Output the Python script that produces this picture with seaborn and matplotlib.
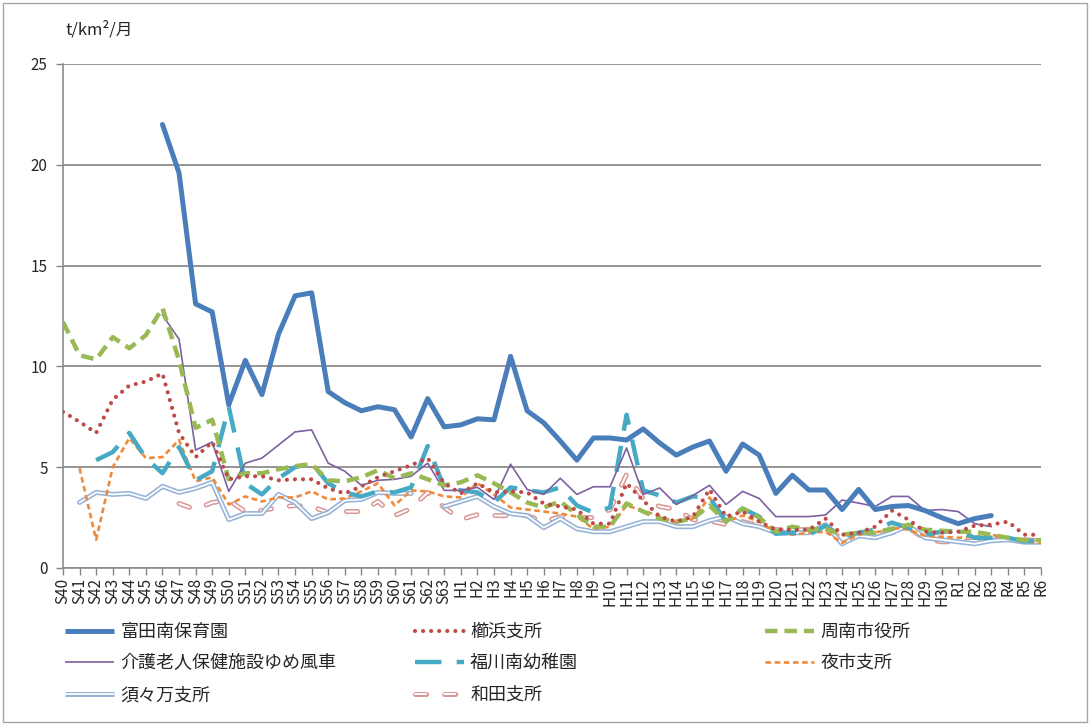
import numpy as np
import pandas as pd
import matplotlib.pyplot as plt
import seaborn as sns
from matplotlib.lines import Line2D
from matplotlib.legend_handler import HandlerTuple
from matplotlib.patches import Rectangle

sns.set_theme(style="white")
plt.rcParams["font.family"] = ["Noto Sans CJK JP", "DejaVu Sans"]
plt.rcParams["lines.scale_dashes"] = False

nan = np.nan

years = ["S40", "S41", "S42", "S43", "S44", "S45", "S46", "S47", "S48", "S49",
         "S50", "S51", "S52", "S53", "S54", "S55", "S56", "S57", "S58", "S59",
         "S60", "S61", "S62", "S63", "H1", "H2", "H3", "H4", "H5", "H6",
         "H7", "H8", "H9", "H10", "H11", "H12", "H13", "H14", "H15", "H16",
         "H17", "H18", "H19", "H20", "H21", "H22", "H23", "H24", "H25", "H26",
         "H27", "H28", "H29", "H30", "R1", "R2", "R3", "R4", "R5", "R6"]

# 富田南保育園
tonda = [nan, nan, nan, nan, nan, nan, 22.0, 19.6, 13.1, 12.7,
         8.1, 10.3, 8.6, 11.6, 13.5, 13.65, 8.75, 8.2, 7.8, 8.0,
         7.85, 6.5, 8.4, 7.0, 7.1, 7.4, 7.35, 10.5, 7.8, 7.2,
         6.3, 5.35, 6.45, 6.45, 6.35, 6.9, 6.2, 5.6, 6.0, 6.3,
         4.8, 6.15, 5.6, 3.7, 4.6, 3.87, 3.87, 2.9, 3.9, 2.9,
         3.05, 3.1, 2.85, 2.5, 2.2, 2.45, 2.6, nan, nan, nan]
# 櫛浜支所
kushigahama = [7.75, 7.25, 6.7, 8.35, 9.05, 9.25, 9.65, 6.7, 5.5, 6.25,
               4.4, 4.55, 4.55, 4.35, 4.4, 4.4, 3.95, 3.7, 4.05, 4.5,
               4.8, 5.1, 5.45, 4.2, 3.7, 4.2, 3.75, 3.8, 3.75, 3.2,
               3.05, 2.9, 2.2, 2.2, 4.2, 3.35, 2.55, 2.3, 2.55, 3.9,
               2.55, 2.8, 2.3, 1.9, 1.9, 1.9, 2.45, 1.65, 1.75, 2.05,
               2.85, 2.4, 1.8, 1.75, 1.8, 2.1, 2.15, 2.3, 1.65, 1.65]
# 周南市役所
shiyakusho = [12.2, 10.55, 10.35, 11.45, 10.9, 11.55, 12.9, 10.3, 6.95, 7.35,
              4.4, 4.7, 4.7, 4.9, 5.05, 5.15, 4.35, 4.3, 4.5, 4.85,
              4.45, 4.7, 4.4, 4.1, 4.25, 4.6, 4.2, 3.75, 3.25, 3.0,
              3.3, 2.65, 2.05, 2.05, 3.2, 2.8, 2.45, 2.3, 2.45, 3.1,
              2.3, 2.95, 2.5, 1.8, 2.05, 1.9, 1.95, 1.65, 1.75, 1.75,
              1.95, 2.15, 1.9, 1.85, 1.8, 1.8, 1.65, 1.5, 1.38, 1.38]
# 介護老人保健施設ゆめ風車
yumefusha = [nan, nan, nan, nan, nan, nan, 12.55, 11.35, 5.85, 6.25,
             3.8, 5.2, 5.45, 6.1, 6.75, 6.85, 5.2, 4.8, 4.1, 4.35,
             4.4, 4.55, 5.2, 3.85, 3.85, 4.0, 3.4, 5.15, 3.9, 3.65,
             4.45, 3.65, 4.03, 4.03, 5.95, 3.65, 3.97, 3.15, 3.6, 4.1,
             3.15, 3.8, 3.45, 2.55, 2.55, 2.55, 2.63, 3.37, 3.22, 3.05,
             3.55, 3.55, 2.85, 2.9, 2.8, 2.2, 2.05, nan, nan, nan]
# 福川南幼稚園
fukugawa = [nan, nan, 5.35, 5.75, 6.7, 5.45, 4.7, 6.0, 4.35, 4.8,
            8.0, 4.2, 3.65, 4.45, 5.0, 5.2, 4.2, 3.75, 3.55, 3.8,
            3.75, 4.0, 6.05, 4.0, 3.85, 3.75, 3.25, 4.0, 3.85, 3.75,
            4.0, 3.1, 2.75, 3.0, 7.6, 3.85, 3.6, 3.25, 3.55, 3.5,
            2.3, 2.95, 2.55, 1.7, 1.75, 1.65, 2.1, 1.55, 1.75, 1.9,
            2.25, 2.0, 1.65, 1.8, 1.85, 1.5, 1.5, 1.5, 1.32, 1.36]
# 夜市支所
yaichi = [nan, 4.95, 1.4, 5.0, 6.45, 5.45, 5.5, 6.35, 4.3, 4.5,
          3.15, 3.55, 3.3, 3.5, 3.5, 3.8, 3.4, 3.45, 3.8, 4.2,
          3.1, 3.85, 3.8, 3.55, 3.5, 4.2, 3.65, 3.0, 2.9, 2.8,
          2.7, 2.55, 1.95, 2.05, 3.1, 2.85, 2.55, 2.25, 2.45, 3.5,
          2.3, 2.6, 2.3, 1.75, 1.65, 1.75, 1.8, 1.25, 1.65, 1.75,
          2.0, 1.9, 1.6, 1.55, 1.5, 1.55, 1.65, 1.5, 1.3, 1.25]
# 須々万支所
suzuma = [nan, 3.25, 3.75, 3.65, 3.7, 3.45, 4.05, 3.75, 3.95, 4.25,
          2.4, 2.7, 2.7, 3.65, 3.25, 2.45, 2.75, 3.35, 3.4, 3.75,
          3.7, 3.7, nan, 3.05, 3.3, 3.55, 3.05, 2.7, 2.6, 2.0,
          2.45, 1.95, 1.8, 1.8, 2.05, 2.3, 2.3, 2.05, 2.05, 2.35,
          2.55, 2.2, 2.05, 1.75, 1.75, 1.75, 2.15, 1.2, 1.6, 1.5,
          1.75, 2.1, 1.5, 1.4, 1.3, 1.2, 1.35, 1.4, 1.28, 1.28]
# 和田支所
wada = [nan, nan, nan, nan, nan, nan, nan, 3.2, 2.9, 3.25,
        3.35, 2.8, 2.85, 3.0, 3.1, 3.05, 2.75, 2.8, 2.8, 3.3,
        2.6, 2.95, 3.75, 3.0, 2.4, 2.65, 2.6, 2.6, 2.6, 2.3,
        2.55, 2.5, 2.5, 2.9, 4.65, 3.45, 3.05, 2.9, 2.4, 2.35,
        2.15, 2.3, 2.1, 1.9, 1.9, 1.9, 2.0, 1.45, 1.6, 1.7,
        1.75, 2.0, 1.45, 1.3, 1.3, 1.35, 1.4, 1.45, 1.4, 1.35]

W, H = 1091, 724
fig = plt.figure(figsize=(W / 100, H / 100), dpi=100)
ax = fig.add_axes([63 / W, 1 - 568 / H, (1041 - 63) / W, (568 - 64) / H])


def draw(vals, color, lw, ls="-", cap="butt", z=2):
    d = pd.DataFrame({"x": range(len(vals)), "y": vals})
    d["seg"] = d["y"].isna().cumsum()
    d = d.dropna()
    sns.lineplot(data=d, x="x", y="y", units="seg", estimator=None, sort=False,
                 color=color, lw=lw, linestyle=ls, dash_capstyle=cap,
                 solid_capstyle="round", solid_joinstyle="round",
                 ax=ax, zorder=z, legend=False)


# styles: (color, lw, linestyle, capstyle)
st_tonda = ("#4A7EBB", 3.6, "-", "butt")
st_kushi = ("#BE4B48", 3.0, (0, (0.01, 5.8)), "round")
st_shi = ("#98B954", 3.2, (0, (9, 5)), "butt")
st_yume = ("#7D60A0", 1.2, "-", "butt")
st_fuku = ("#46AAC5", 3.2, (0, (19, 11)), "butt")
st_yai = ("#F08A3A", 1.9, (0, (4, 2.6)), "butt")
st_suzu = ("#95B3D7", 3.6, "-", "butt")
st_suzu_in = ("white", 1.3, "-", "butt")
st_wada = ("#DA9694", 3.6, (0, (8, 13)), "round")
st_wada_in = ("white", 1.4, (0, (8, 13)), "round")

draw(wada, *st_wada, z=2)
draw(wada, *st_wada_in, z=2.1)
draw(suzuma, *st_suzu, z=2.2)
draw(suzuma, *st_suzu_in, z=2.3)
draw(yaichi, *st_yai, z=2.4)
draw(fukugawa, *st_fuku, z=2.5)
draw(yumefusha, *st_yume, z=2.6)
draw(shiyakusho, *st_shi, z=2.7)
draw(kushigahama, *st_kushi, z=2.8)
draw(tonda, *st_tonda, z=2.9)

ax.set_xlim(0, len(years) - 1)
ax.set_ylim(0, 25)
ax.set_yticks(range(0, 26, 5))
ax.set_xticks(range(len(years)))
ax.set_xticklabels(years, rotation=90, fontsize=11)
ax.tick_params(axis="y", labelsize=11, left=True, length=5, width=1, color="#868686", pad=6)
ax.tick_params(axis="x", bottom=True, length=5, width=1, color="#868686", pad=2)
ax.set_xlabel("")
ax.set_ylabel("")
ax.yaxis.grid(True, color="#8C8C8C", lw=1.3)
ax.set_axisbelow(True)
for s in ["top", "right"]:
    ax.spines[s].set_visible(False)
for s in ["left", "bottom"]:
    ax.spines[s].set_color("#8C8C8C")
    ax.spines[s].set_linewidth(1.2)

fig.text(65 / W, 1 - 30 / H, "t/km²/月", fontsize=12, va="center", ha="left")


def handle(style):
    c, lw, ls, cap = style
    return Line2D([], [], color=c, lw=lw, linestyle=ls, dash_capstyle=cap,
                  solid_capstyle="butt")


entries = [
    (handle(st_tonda), "富田南保育園"),
    (handle(st_kushi), "櫛浜支所"),
    (handle(st_shi), "周南市役所"),
    (handle(st_yume), "介護老人保健施設ゆめ風車"),
    (handle(st_fuku), "福川南幼稚園"),
    (handle(st_yai), "夜市支所"),
    ((handle(st_suzu), handle(st_suzu_in)), "須々万支所"),
    ((handle(st_wada), handle(st_wada_in)), "和田支所"),
]
col_x = [65, 415, 765]
row_y = [632, 663, 695]
for i, (h, lab) in enumerate(entries):
    x = col_x[i % 3]
    y = row_y[i // 3]
    fig.legend([h], [lab], loc="center left", bbox_to_anchor=(x / W, 1 - y / H),
               frameon=False, borderpad=0, borderaxespad=0, fontsize=13,
               handlelength=2.7, handletextpad=0.35,
               handler_map={tuple: HandlerTuple(ndivide=1, pad=0)})

fig.patches.append(Rectangle((3 / W, 2 / H), 1 - 7 / W, 1 - 5 / H, transform=fig.transFigure,
                             fill=False, edgecolor="#A6A6A6", lw=1))

fig.savefig("out.png", dpi=100)
